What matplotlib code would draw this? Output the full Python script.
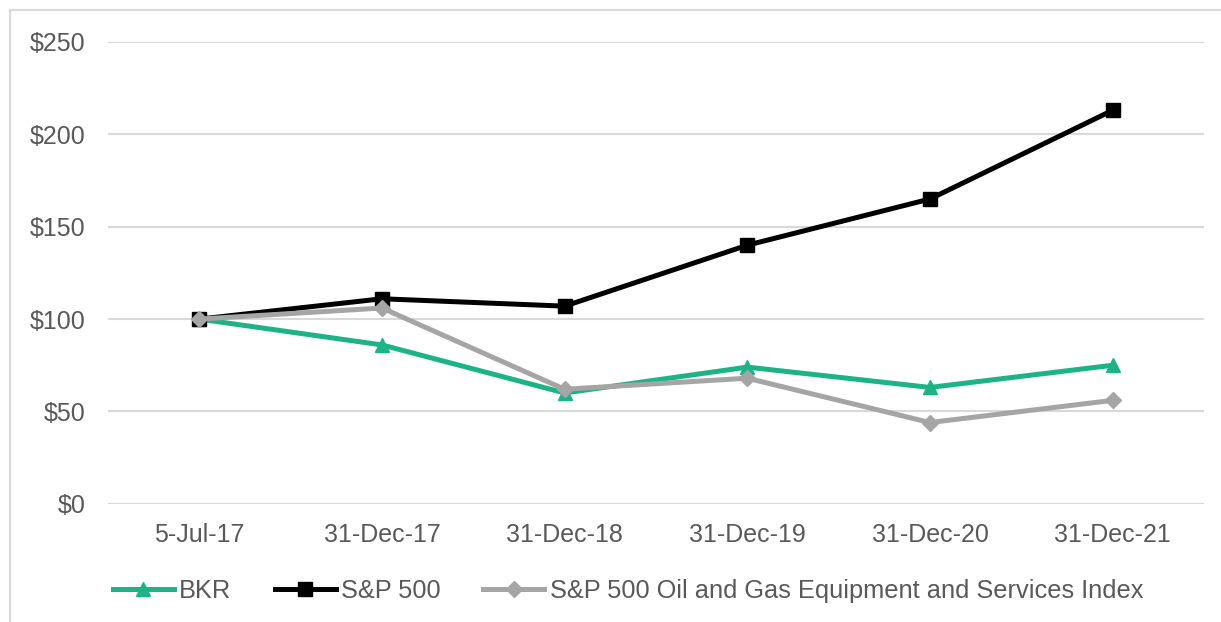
import matplotlib
matplotlib.use("Agg")
import matplotlib.pyplot as plt
from matplotlib.patches import Rectangle
from matplotlib.ticker import FuncFormatter

plt.rcParams['font.family'] = ['Liberation Sans', 'DejaVu Sans']

dates = ['5-Jul-17', '31-Dec-17', '31-Dec-18', '31-Dec-19', '31-Dec-20', '31-Dec-21']
bkr = [100, 86, 60, 74, 63, 75]
sp500 = [100, 111, 107, 140, 165, 213]
oil_gas = [100, 106, 62, 68, 44, 56]

green = '#1CB386'
gray = '#A5A5A5'
txt = '#595959'

fig = plt.figure(figsize=(12.21, 6.22), dpi=100)
ax = fig.add_axes([0.0885, 0.19, 0.8975, 0.7425])

x = range(len(dates))
ax.plot(x, bkr, color=green, lw=3.6, marker='^', ms=10, label='BKR', zorder=3)
ax.plot(x, sp500, color='black', lw=3.6, marker='s', ms=10, label='S&P 500', zorder=4)
ax.plot(x, oil_gas, color=gray, lw=3.6, marker='D', ms=8,
        label='S&P 500 Oil and Gas Equipment and Services Index', zorder=5)

ax.set_xlim(-0.5, len(dates) - 0.5)
ax.set_ylim(0, 250)
ax.set_yticks(range(0, 251, 50))
ax.yaxis.set_major_formatter(FuncFormatter(lambda v, p: '$%d' % v))
ax.set_xticks(list(x))
ax.set_xticklabels(dates)
ax.tick_params(axis='y', length=0, pad=16, labelsize=18, labelcolor=txt)
ax.tick_params(axis='x', length=0, pad=14, labelsize=18, labelcolor=txt)
ax.grid(axis='y', color='#D9D9D9', lw=1.5)
ax.set_axisbelow(True)
for s in ax.spines.values():
    s.set_visible(False)

leg = fig.legend(loc='center', bbox_to_anchor=(628 / 1221, 1 - 591 / 622), ncol=3,
                 frameon=False, fontsize=18.3, handlelength=2.4, handletextpad=0.2,
                 columnspacing=1.7)
for t in leg.get_texts():
    t.set_color(txt)

# outer frame
fig.patches.append(Rectangle((10 / 1221, -0.1), 1.2, 1.1 - 10 / 622, transform=fig.transFigure,
                             fill=False, edgecolor='#D9D9D9', lw=1.5))

fig.savefig('out.png', dpi=100)
